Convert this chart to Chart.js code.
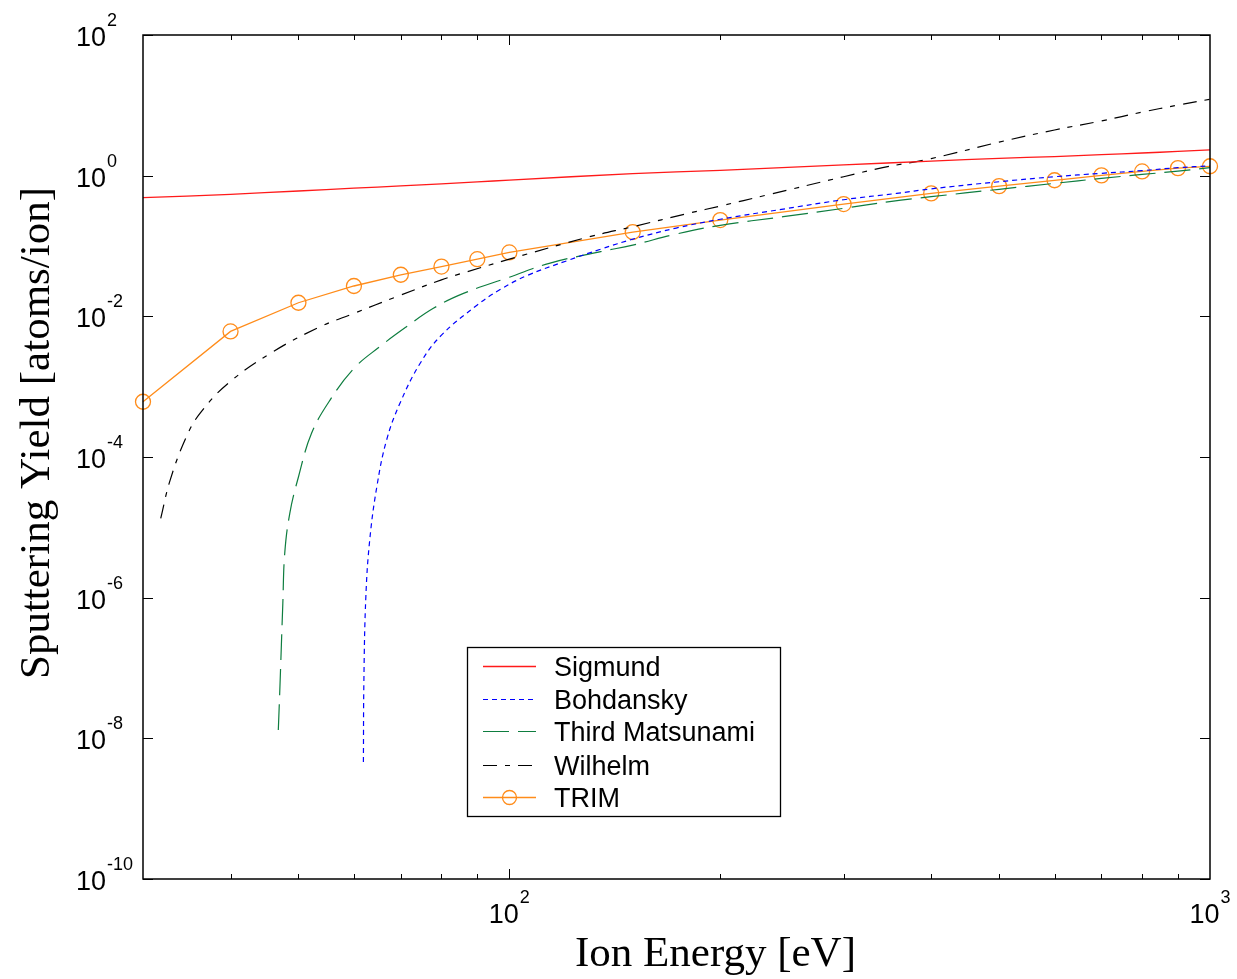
<!DOCTYPE html>
<html>
<head>
<meta charset="utf-8">
<script src="https://cdn.jsdelivr.net/npm/chart.js@4/dist/chart.umd.min.js"></script>
<style>
html,body{margin:0;padding:0;background:#fff;}
#wrap{width:1237px;height:979px;position:relative;}
</style>
</head>
<body>
<div id="wrap"><canvas id="c"></canvas></div>
<script>
// ---- data ----
const sigmundEnergy = [30,40,50,60,70,80,90,100,150,200,300,400,500,600,700,800,900,1000];
const sigmundYield  = [0.486,0.543,0.605,0.664,0.715,0.765,0.815,0.865,1.07,1.19,1.42,1.61,1.76,1.87,1.99,2.1,2.21,2.32];

const bohdanskyEnergy = [61.9,62.0,62.4,63.2,64.7,66.8,69.8,74.6,80,90,97,106,121,135,150,173,200,246,300,357,400,500,600,700,800,900,1000];
const bohdanskyYield  = [4.6e-9,6.7e-8,1.03e-6,6.6e-6,3.8e-5,1.74e-4,5.8e-4,2.15e-3,5.4e-3,0.0145,0.024,0.038,0.062,0.09,0.125,0.18,0.24,0.335,0.455,0.56,0.65,0.82,0.967,1.08,1.18,1.3,1.38];

const matsunamiEnergy = [46.8,47.05,47.5,47.8,48.6,50.0,52.2,55.5,60,65.3,71.3,77.9,86,100,114,135,150,173,200,246,300,349,400,500,600,700,800,900,1000];
const matsunamiYield  = [1.31e-8,5.4e-8,8.3e-7,4.3e-6,1.58e-5,5.2e-5,2.17e-4,6.5e-4,1.82e-3,3.7e-3,7.1e-3,0.013,0.0212,0.036,0.0567,0.083,0.103,0.148,0.197,0.261,0.343,0.427,0.502,0.64,0.778,0.916,1.04,1.16,1.3];

const wilhelmEnergy = [31.8,32.8,34.6,36.2,39.7,46,53.7,60,69,80,87,100,130,150,181,200,233,300,341,400,500,600,700,800,900,1000];
const wilhelmYield  = [1.34e-5,4.7e-5,1.94e-4,4.2e-4,1.12e-3,3.14e-3,7.1e-3,0.011,0.019,0.033,0.043,0.065,0.135,0.188,0.295,0.37,0.53,0.966,1.3,1.75,3.0,4.46,6.0,8.0,10.1,12.2];

const trimEnergy = [30,40,50,60,70,80,90,100,150,200,300,400,500,600,700,800,900,1000];
const trimYield  = [6.1e-4,6.1e-3,0.0156,0.027,0.039,0.051,0.065,0.081,0.158,0.234,0.395,0.56,0.71,0.86,1.01,1.15,1.28,1.36];

const seriesNames = ['Sigmund','Bohdansky','Third Matsunami','Wilhelm','TRIM'];
const xTickLabelExps = [2,3];            // 10^2, 10^3
const yTickLabelExps = [2,0,-2,-4,-6,-8,-10];
const xMinorTicks = [40,50,60,70,80,90,200,300,400,500,600,700,800,900];
const xAxisTitle = 'Ion Energy [eV]';
const yAxisTitle = 'Sputtering Yield [atoms/ion]';

// ---- build chart ----
const toXY = (xs, ys) => xs.map((x, i) => ({x: x, y: ys[i]}));
const SANS = '"Liberation Sans", Arial, sans-serif';
const SERIF = '"Liberation Serif", "Times New Roman", serif';

const datasets = [
  {label: seriesNames[0], data: toXY(sigmundEnergy, sigmundYield), borderColor: '#ff1a1a', borderWidth: 1.3, pointRadius: 0, tension: 0.3},
  {label: seriesNames[1], data: toXY(bohdanskyEnergy, bohdanskyYield), borderColor: '#0000ff', borderWidth: 1.2, borderDash: [5,4], pointRadius: 0, tension: 0.4},
  {label: seriesNames[2], data: toXY(matsunamiEnergy, matsunamiYield), borderColor: '#0e7d3f', borderWidth: 1.2, borderDash: [26,9], pointRadius: 0, tension: 0.4},
  {label: seriesNames[3], data: toXY(wilhelmEnergy, wilhelmYield), borderColor: '#000000', borderWidth: 1.2, borderDash: [14,8,5,8], pointRadius: 0, tension: 0.4},
  {label: seriesNames[4], data: toXY(trimEnergy, trimYield), borderColor: '#ff8c1a', borderWidth: 1.3, tension: 0,
   pointRadius: 7.5, pointHoverRadius: 7.5, pointStyle: 'circle', pointBackgroundColor: 'rgba(255,255,255,0)', pointBorderColor: '#ff8c1a', pointBorderWidth: 1.3}
];
datasets.forEach(d => { d.fill = false; d.clip = false; });

function drawPow(ctx, exp, x, baseY, align) {
  const main = '10', sup = String(exp);
  ctx.font = '27px ' + SANS;
  const wm = ctx.measureText(main).width;
  ctx.font = '18px ' + SANS;
  const ws = ctx.measureText(sup).width;
  let left = x;
  if (align === 'center') left = x - (wm + 1 + ws) / 2;
  ctx.textAlign = 'left';
  ctx.textBaseline = 'alphabetic';
  ctx.fillStyle = '#000';
  ctx.font = '27px ' + SANS;
  ctx.fillText(main, left, baseY);
  ctx.font = '18px ' + SANS;
  ctx.fillText(sup, left + wm + 1, baseY - 20);
}

const decor = {
  id: 'decor',
  afterDraw(chart) {
    const ctx = chart.ctx, xs = chart.scales.x, ys = chart.scales.y, a = chart.chartArea;
    ctx.save();
    // frame
    ctx.strokeStyle = '#000';
    ctx.lineWidth = 1.5;
    ctx.setLineDash([]);
    ctx.strokeRect(a.left, a.top, a.right - a.left, a.bottom - a.top);
    // x ticks (inward, top and bottom)
    ctx.lineWidth = 1;
    const xt = (v, len) => {
      const px = Math.round(xs.getPixelForValue(v)) + 0.5;
      ctx.beginPath();
      ctx.moveTo(px, a.bottom); ctx.lineTo(px, a.bottom - len);
      ctx.moveTo(px, a.top); ctx.lineTo(px, a.top + len);
      ctx.stroke();
    };
    xMinorTicks.forEach(v => xt(v, 5));
    xt(100, 10);
    // y ticks (inward, left and right)
    yTickLabelExps.forEach(e => {
      const py = Math.round(ys.getPixelForValue(Math.pow(10, e))) + 0.5;
      ctx.beginPath();
      ctx.moveTo(a.left, py); ctx.lineTo(a.left + 10, py);
      ctx.moveTo(a.right, py); ctx.lineTo(a.right - 10, py);
      ctx.stroke();
    });
    // tick labels
    yTickLabelExps.forEach(e => {
      const py = ys.getPixelForValue(Math.pow(10, e));
      drawPow(ctx, e, 76, py + 11, 'left');
    });
    xTickLabelExps.forEach(e => {
      const px = xs.getPixelForValue(Math.pow(10, e));
      drawPow(ctx, e, px, 923, 'center');
    });
    // axis titles
    ctx.fillStyle = '#000';
    ctx.font = '43px ' + SERIF;
    ctx.textAlign = 'center';
    ctx.textBaseline = 'alphabetic';
    ctx.fillText(xAxisTitle, (a.left + a.right) / 2 + 39, 966);
    ctx.save();
    ctx.translate(49, 433);
    ctx.rotate(-Math.PI / 2);
    ctx.fillText(yAxisTitle, 0, 0);
    ctx.restore();
    // legend
    ctx.fillStyle = '#fff';
    ctx.fillRect(467.5, 647.5, 313, 169);
    ctx.strokeStyle = '#000';
    ctx.lineWidth = 1.3;
    ctx.strokeRect(467.5, 647.5, 313, 169);
    const rows = [666, 699, 731, 765, 797];
    chart.data.datasets.forEach((d, i) => {
      const y = rows[i] + 0.5;
      ctx.strokeStyle = d.borderColor;
      ctx.lineWidth = d.borderWidth;
      ctx.setLineDash(d.borderDash || []);
      ctx.beginPath();
      ctx.moveTo(483, y); ctx.lineTo(536, y);
      ctx.stroke();
      ctx.setLineDash([]);
      if (d.pointRadius) {
        ctx.strokeStyle = d.pointBorderColor;
        ctx.lineWidth = d.pointBorderWidth;
        ctx.beginPath();
        ctx.arc(509.5, y, 7, 0, Math.PI * 2);
        ctx.stroke();
      }
      ctx.fillStyle = '#000';
      ctx.font = '27px ' + SANS;
      ctx.textAlign = 'left';
      ctx.fillText(d.label, 554, rows[i] + 10);
    });
    ctx.restore();
  }
};

new Chart(document.getElementById('c'), {
  type: 'line',
  data: {datasets: datasets},
  options: {
    animation: false,
    responsive: true,
    maintainAspectRatio: false,
    devicePixelRatio: 1,
    layout: {padding: {left: 143, right: 27, top: 35, bottom: 100}},
    plugins: {legend: {display: false}, tooltip: {enabled: false}},
    events: [],
    scales: {
      x: {type: 'logarithmic', min: 30, max: 1000, display: false},
      y: {type: 'logarithmic', min: 1e-10, max: 100, display: false}
    }
  },
  plugins: [decor]
});
</script>
</body>
</html>
